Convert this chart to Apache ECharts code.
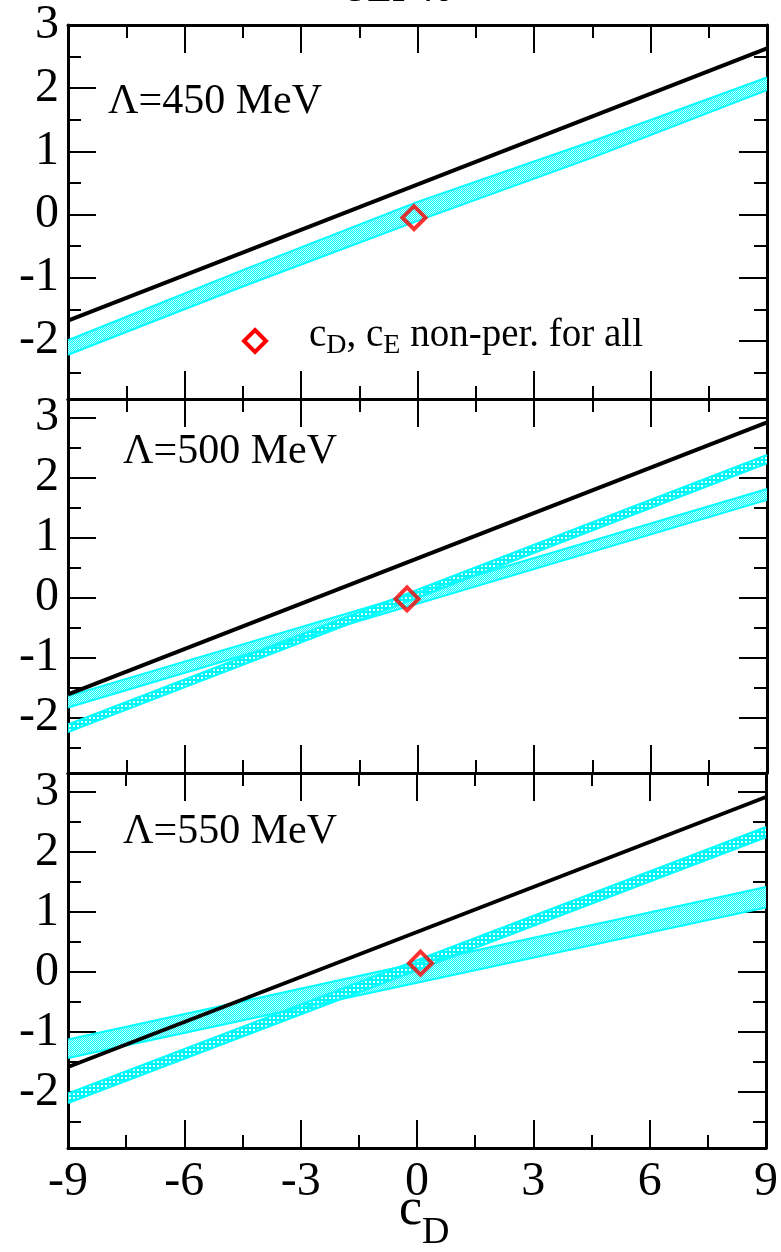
<!DOCTYPE html>
<html>
<head>
<meta charset="utf-8">
<script src="https://cdn.jsdelivr.net/npm/echarts@6/dist/echarts.min.js"></script>
<style>
html,body{margin:0;padding:0;background:#fff;}
#chart{width:781px;height:1252px;}
</style>
</head>
<body>
<div id="chart"></div>
<script>
// ---------------- data ----------------
const xTicks = [-9, -6, -3, 0, 3, 6, 9];
const yMajorTicks = [-2, -1, 0, 1, 2, 3];
const yMinorTicks = [-2.5, -1.5, -0.5, 0.5, 1.5, 2.5];
const panelLabels = ['Λ=450 MeV', 'Λ=500 MeV', 'Λ=550 MeV'];
const yMinVals = [-2.92, -2.92, -2.93];
const yMaxVals = [3, 3.31, 3.32];

const lineX = [-9, 9];
const black450 = [-1.68, 2.63];
const black500 = [-1.61, 2.92];
const black550 = [-1.58, 2.92];

const band450X = [-9, -4.5, 0, 4.5, 9];
const band450Lo = [-2.22, -1.14, -0.1, 0.9, 1.97];
const band450Hi = [-1.99, -0.88, 0.2, 1.16, 2.17];

const wide500Lo = [-1.83, 1.63];
const wide500Hi = [-1.64, 1.81];
const narrow500Lo = [-2.24, 2.24];
const narrow500Hi = [-2.11, 2.38];

const wide550Lo = [-1.43, 1.08];
const wide550Hi = [-1.12, 1.42];
const narrow550Lo = [-2.18, 2.25];
const narrow550Hi = [-2.02, 2.42];

const diamondX = [-0.09, -0.27, 0.09];
const diamondY = [-0.05, -0.02, 0.15];

const titleText = 'SEP40';
const legendText = 'c{sub|D}, c{sub|E} non-per. for all';
const xTitleMain = 'c';
const xTitleSub = 'D';

// ---------------- patterns ----------------
function makePattern(kind) {
  const c = document.createElement('canvas');
  if (kind === 'wide') {
    c.width = 2; c.height = 2;
    const g = c.getContext('2d');
    g.fillStyle = '#00ffff'; g.fillRect(0, 0, 2, 2);
    g.fillStyle = '#c4ffff'; g.fillRect(1, 0, 1, 1); g.fillRect(0, 1, 1, 1);
  } else {
    c.width = 4; c.height = 4;
    const g = c.getContext('2d');
    g.fillStyle = '#00f4f4'; g.fillRect(0, 0, 4, 4);
    g.fillStyle = '#e0ffff'; g.fillRect(1, 1, 2, 2);
  }
  return {image: c, repeat: 'repeat'};
}
const patWide = makePattern('wide');
const patNarrow = makePattern('narrow');

// ---------------- layout ----------------
const gridTops = [25, 399, 773];
const gridHeights = [374, 374, 375];
const FONT = 'Liberation Serif';

const chart = echarts.init(document.getElementById('chart'), null, {renderer: 'canvas'});

const grids = [], xAxes = [], yAxes = [], series = [];

for (let i = 0; i < 3; i++) {
  grids.push({left: 68, right: 14, top: gridTops[i], height: gridHeights[i], containLabel: false});
  ['bottom', 'top'].forEach(pos => {
    xAxes.push({
      type: 'value', gridIndex: i, position: pos, min: -9, max: 9, interval: 3,
      axisLine: {show: true, onZero: false, lineStyle: {color: '#000', width: 3}},
      axisTick: {show: true, inside: true, length: 28, lineStyle: {color: '#000', width: 2}},
      minorTick: {show: true, splitNumber: 2, length: 13, lineStyle: {color: '#000', width: 2}},
      axisLabel: {show: i === 2 && pos === 'bottom', fontFamily: FONT, fontSize: 48, color: '#000', margin: 10},
      splitLine: {show: false}, minorSplitLine: {show: false}
    });
  });
  ['left', 'right'].forEach(pos => {
    const minorVals = yMinorTicks.filter(v => v > yMinVals[i] && v < yMaxVals[i]);
    yAxes.push({
      type: 'value', gridIndex: i, position: pos, min: yMinVals[i], max: yMaxVals[i],
      axisLine: {show: true, onZero: false, lineStyle: {color: '#000', width: 3}},
      axisTick: {show: true, inside: true, length: 28, customValues: yMajorTicks, lineStyle: {color: '#000', width: 2}},
      axisLabel: {show: pos === 'left', customValues: yMajorTicks, fontFamily: FONT, fontSize: 48, color: '#000', margin: 9},
      splitLine: {show: false}
    });
    yAxes.push({
      type: 'value', gridIndex: i, position: pos, min: yMinVals[i], max: yMaxVals[i],
      axisLine: {show: false, onZero: false},
      axisTick: {show: true, inside: true, length: 13, customValues: minorVals, lineStyle: {color: '#000', width: 2}},
      axisLabel: {show: false},
      splitLine: {show: false}
    });
  });
}

function bandSeries(panel, xs, lo, hi, pat) {
  const xi = panel * 2, yi = panel * 4;
  const segs = [];
  for (let k = 0; k < xs.length - 1; k++) {
    segs.push([xs[k], lo[k], hi[k], xs[k + 1], lo[k + 1], hi[k + 1]]);
  }
  series.push({
    type: 'custom', xAxisIndex: xi, yAxisIndex: yi, silent: true, z: 2,
    renderItem: function (params, api) {
      const p = [
        api.coord([api.value(0), api.value(1)]),
        api.coord([api.value(3), api.value(4)]),
        api.coord([api.value(3), api.value(5)]),
        api.coord([api.value(0), api.value(2)])
      ];
      return {type: 'polygon', shape: {points: p}, style: {fill: pat, stroke: null}};
    },
    data: segs
  });
  [lo, hi].forEach(arr => {
    series.push({
      type: 'line', xAxisIndex: xi, yAxisIndex: yi, showSymbol: false, symbol: 'none', silent: true, z: 3,
      lineStyle: {color: '#00ffff', width: 2},
      data: xs.map((x, k) => [x, arr[k]])
    });
  });
}

bandSeries(0, band450X, band450Lo, band450Hi, patWide);
bandSeries(1, lineX, wide500Lo, wide500Hi, patWide);
bandSeries(1, lineX, narrow500Lo, narrow500Hi, patNarrow);
bandSeries(2, lineX, wide550Lo, wide550Hi, patWide);
bandSeries(2, lineX, narrow550Lo, narrow550Hi, patNarrow);

[black450, black500, black550].forEach((b, i) => {
  series.push({
    type: 'line', xAxisIndex: i * 2, yAxisIndex: i * 4, showSymbol: false, symbol: 'none', silent: true, z: 4,
    lineStyle: {color: '#000', width: 4},
    data: lineX.map((x, k) => [x, b[k]])
  });
});

for (let i = 0; i < 3; i++) {
  series.push({
    type: 'scatter', xAxisIndex: i * 2, yAxisIndex: i * 4, symbol: 'diamond', symbolSize: 23, z: 5, silent: true,
    itemStyle: {color: 'rgba(0,0,0,0)', borderColor: '#ff0000', borderWidth: 4},
    data: [[diamondX[i], diamondY[i]]]
  });
}

const graphics = [
  {type: 'text', left: 108, top: 81, style: {text: panelLabels[0], font: '42px "Liberation Serif"', fill: '#000'}},
  {type: 'text', left: 123, top: 431, style: {text: panelLabels[1], font: '42px "Liberation Serif"', fill: '#000'}},
  {type: 'text', left: 123, top: 811, style: {text: panelLabels[2], font: '42px "Liberation Serif"', fill: '#000'}},
  {type: 'polygon', shape: {points: [[255, 330], [266, 341], [255, 352], [244, 341]]},
   style: {fill: 'none', stroke: '#ff0000', lineWidth: 4}},
  {type: 'text', left: 309, top: 316, style: {
    text: legendText, fontFamily: FONT, fontSize: 39, fill: '#000',
    rich: {sub: {fontFamily: FONT, fontSize: 28, padding: [20, 0, 0, 0]}}
  }},
  {type: 'text', left: 345, top: -30, style: {text: titleText, font: '40px "Liberation Serif"', fill: '#000'}},
  {type: 'text', left: 399, top: 1184, style: {text: xTitleMain, font: '52px "Liberation Serif"', fill: '#000'}},
  {type: 'text', left: 422, top: 1214, style: {text: xTitleSub, font: '38px "Liberation Serif"', fill: '#000'}}
];

chart.setOption({
  animation: false,
  backgroundColor: '#fff',
  grid: grids,
  xAxis: xAxes,
  yAxis: yAxes,
  series: series,
  graphic: graphics
});
</script>
</body>
</html>
